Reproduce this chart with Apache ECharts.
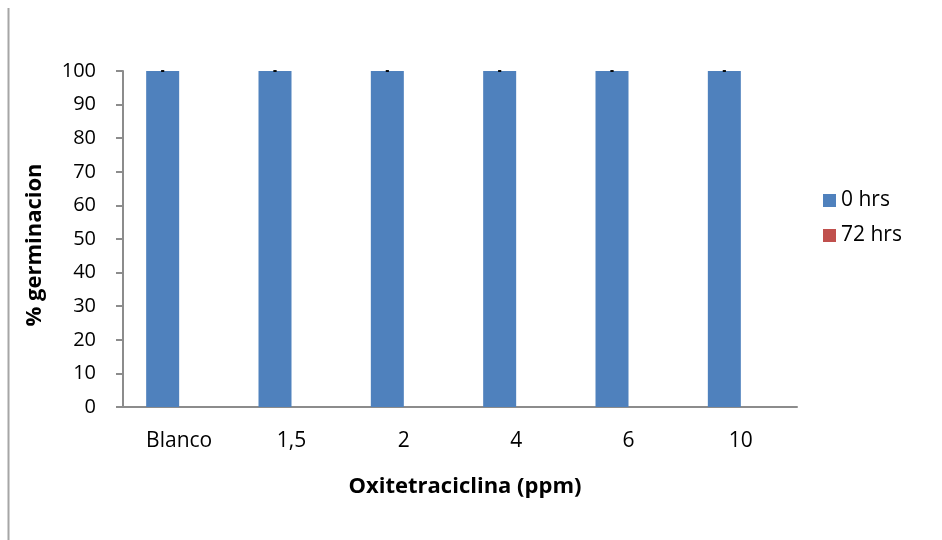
<!DOCTYPE html>
<html>
<head>
<meta charset="utf-8">
<script src="https://cdn.jsdelivr.net/npm/echarts@6/dist/echarts.min.js"></script>
<style>
  html, body { margin: 0; padding: 0; background: #fff; }
  #chart { width: 942px; height: 540px; }
</style>
</head>
<body>
<div id="chart"></div>
<script>
// Germination percentage by oxytetracycline concentration
const categories = ['Blanco', '1,5', '2', '4', '6', '10'];
const germ0h = [100, 100, 100, 100, 100, 100];
const germ72h = [0, 0, 0, 0, 0, 0];
const err0h = [0, 0, 0, 0, 0, 0];
const yTicks = [0, 10, 20, 30, 40, 50, 60, 70, 80, 90, 100];

const FONT = '"Open Sans", "Noto Sans", sans-serif';
const AXIS_GRAY = '#8c8c8c';

const chart = echarts.init(document.getElementById('chart'), null, { renderer: 'canvas' });

chart.setOption({
  animation: false,
  backgroundColor: '#fff',
  grid: { left: 123, right: 145, top: 71, bottom: 133, containLabel: false },
  legend: {
    orient: 'vertical',
    left: 818,
    top: 185,
    itemWidth: 13,
    itemHeight: 13,
    itemGap: 14,
    icon: 'rect',
    textStyle: { fontFamily: FONT, fontSize: 21, color: '#000' },
    data: ['0 hrs', '72 hrs']
  },
  xAxis: {
    type: 'category',
    data: categories,
    name: 'Oxitetraciclina (ppm)',
    nameLocation: 'middle',
    nameGap: 69,
    nameTextStyle: {
      fontFamily: FONT, fontSize: 22, fontWeight: 'bold', color: '#000',
      padding: [0, 0, 0, 10]
    },
    axisLine: { lineStyle: { color: AXIS_GRAY, width: 2 } },
    axisTick: { show: false },
    axisLabel: { fontFamily: FONT, fontSize: 21, color: '#000', margin: 24 }
  },
  yAxis: {
    type: 'value',
    min: yTicks[0],
    max: yTicks[yTicks.length - 1],
    interval: 10,
    name: '% germinacion',
    nameLocation: 'middle',
    nameGap: 77,
    nameTextStyle: {
      fontFamily: FONT, fontSize: 22, fontWeight: 'bold', color: '#000',
      padding: [0, 12, 0, 0]
    },
    axisLine: { show: true, lineStyle: { color: AXIS_GRAY, width: 2 } },
    axisTick: { show: true, length: 7, lineStyle: { color: AXIS_GRAY, width: 2 } },
    splitLine: { show: false },
    axisLabel: { fontFamily: FONT, fontSize: 20, color: '#000', margin: 27 }
  },
  series: [
    {
      name: '0 hrs',
      type: 'bar',
      data: germ0h,
      barWidth: 33,
      barGap: '0%',
      itemStyle: { color: '#4f81bd' }
    },
    {
      name: '72 hrs',
      type: 'bar',
      data: germ72h,
      barWidth: 33,
      itemStyle: { color: '#c0504d' }
    },
    {
      // error bar caps for the 0 hrs series, centred on each blue bar
      name: 'err',
      type: 'custom',
      z: 10,
      data: germ0h.map((v, i) => [i, v, err0h[i]]),
      renderItem: function (params, api) {
        const i = api.value(0);
        const v = api.value(1);
        const e = api.value(2);
        const base = api.coord([i, v]);
        const x = base[0] - 16.5;
        const top = api.coord([i, v + e])[1];
        const bot = api.coord([i, v - e])[1];
        const style = { stroke: '#000', lineWidth: 1.5 };
        return {
          type: 'group',
          children: [
            { type: 'line', shape: { x1: x - 1.5, y1: top, x2: x + 1.5, y2: top }, style: style },
            { type: 'line', shape: { x1: x, y1: top, x2: x, y2: bot }, style: style },
            { type: 'line', shape: { x1: x - 1.5, y1: bot, x2: x + 1.5, y2: bot }, style: style }
          ]
        };
      }
    }
  ],
  graphic: [
    {
      type: 'line',
      shape: { x1: 8.5, y1: 8, x2: 8.5, y2: 540 },
      style: { stroke: '#a6a6a6', lineWidth: 2 }
    },
    {
      type: 'line',
      shape: { x1: 116, y1: 407, x2: 124, y2: 407 },
      style: { stroke: AXIS_GRAY, lineWidth: 2 }
    }
  ]
});
</script>
</body>
</html>
